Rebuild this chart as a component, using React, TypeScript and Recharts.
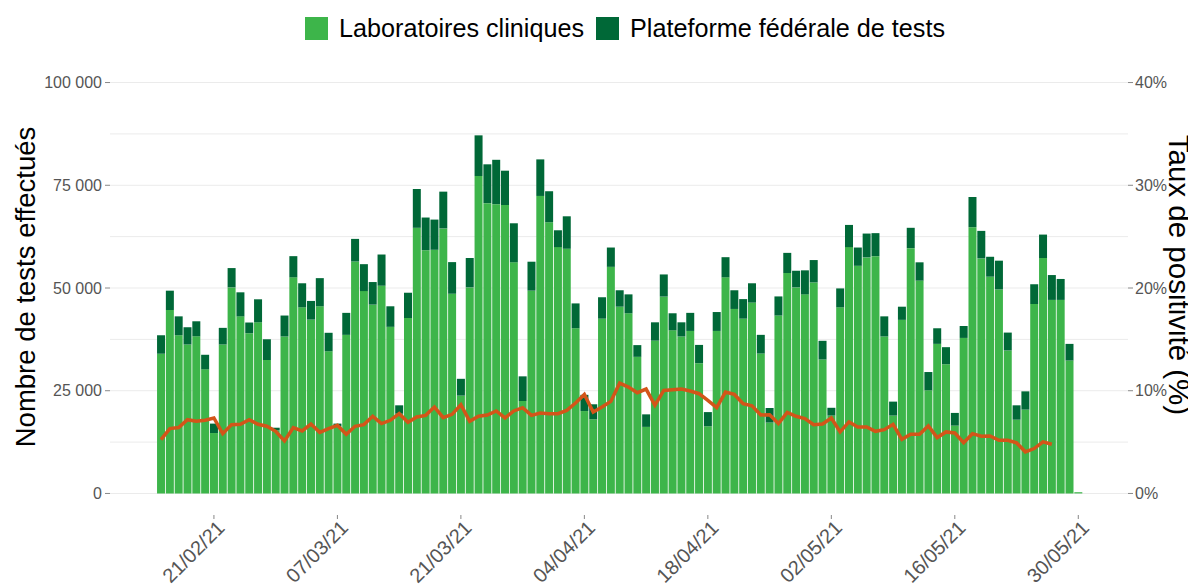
import React from "react";
import {
  ComposedChart,
  Bar,
  Line,
  XAxis,
  YAxis,
  CartesianGrid,
} from "recharts";

const FONT = "'Liberation Sans', Arial, Helvetica, sans-serif";

// daily dates 15/02/21 -> 30/05/21
const START = new Date(2021, 1, 15);
const dates: string[] = [];
for (let i = 0; i < 105; i++) {
  const d = new Date(START.getFullYear(), START.getMonth(), START.getDate() + i);
  const dd = String(d.getDate()).padStart(2, "0");
  const mm = String(d.getMonth() + 1).padStart(2, "0");
  dates.push(`${dd}/${mm}/21`);
}

const tickDates = ["21/02/21", "07/03/21", "21/03/21", "04/04/21", "18/04/21", "02/05/21", "16/05/21", "30/05/21"];

// tests by clinical labs
const labos = [
  34000, 44650, 38500, 36250, 38250, 30200, 14700, 36250, 50150, 43100, 39000, 41650, 32500, 15350,
  38200, 52600, 45300, 42300, 45550, 34600, 16350, 38600, 56450, 49250, 45950, 50550, 40550, 19400,
  42700, 64650, 59200, 59300, 64500, 48600, 23800, 50150, 77250, 70650, 70400, 70200, 56250, 22500,
  49350, 72400, 66000, 59950, 59550, 40200, 20050, 18050, 42550, 55150, 45450, 43850, 33250, 16200,
  37200, 47900, 39700, 38200, 39550, 31700, 16350, 39550, 52600, 44900, 42550, 46450, 34050, 17250,
  43300, 53650, 50150, 48450, 51350, 32600, 18950, 45300, 59950, 55400, 57450, 57750, 38200, 18950,
  42250, 59700, 51800, 25100, 36400, 31450, 16500, 37850, 64800, 57200, 52750, 49650, 34800, 17950,
  20400, 46100, 57300, 47100, 47100, 32350, 300,
];

// tests by the federal platform
const plateforme = [
  4500, 4700, 4600, 4200, 3650, 3550, 2300, 4050, 4700, 5850, 2600, 5600, 5050, 650,
  5100, 5150, 5850, 4550, 6850, 4500, 650, 5350, 5500, 6550, 5500, 7600, 5000, 2050,
  6150, 9450, 7950, 7350, 8950, 7700, 4100, 7150, 9900, 9450, 10800, 8350, 9500, 6000,
  7050, 8900, 7550, 4100, 7900, 6050, 3950, 3650, 5200, 4700, 4000, 4600, 2850, 3050,
  4450, 5400, 4150, 3450, 4400, 4450, 3450, 4600, 4900, 4550, 4750, 4700, 4550, 3550,
  4650, 4900, 4050, 5850, 5450, 4550, 1900, 4600, 5400, 4450, 5800, 5600, 4900, 3400,
  3200, 4950, 4450, 4450, 3800, 4150, 3100, 2900, 7350, 6700, 4850, 7000, 4350, 3500,
  4450, 4800, 5700, 6050, 5100, 4050, 0,
];

// positivity rate (%)
const taux: (number | null)[] = [
  5.24, 6.31, 6.41, 7.18, 7.02, 7.12, 7.35, 5.82, 6.7, 6.73, 7.18, 6.73, 6.54, 6.05,
  5.11, 6.41, 6.08, 6.76, 5.95, 6.31, 6.63, 5.76, 6.54, 6.7, 7.51, 6.8, 7.12, 7.77,
  6.93, 7.44, 7.6, 8.41, 7.38, 7.7, 8.64, 7.02, 7.51, 7.63, 8.03, 7.35, 8.03, 8.35,
  7.6, 7.83, 7.77, 7.77, 8.09, 8.8, 9.64, 7.93, 8.41, 8.96, 10.74, 10.36, 9.81, 10.16,
  8.58, 10.03, 10.1, 10.16, 9.97, 9.71, 9.06, 8.35, 9.87, 9.64, 8.74, 8.54, 7.64, 7.67,
  6.8, 7.9, 7.51, 7.28, 6.7, 6.76, 7.35, 5.99, 6.96, 6.47, 6.47, 6.05, 6.21, 6.73,
  5.27, 5.76, 5.76, 6.57, 5.44, 5.99, 5.89, 4.95, 5.82, 5.57, 5.6, 5.18, 5.18, 4.92,
  4.05, 4.37, 5.02, 4.79, null, null, null,
];

const leftTicks = [0, 25000, 50000, 75000, 100000];
const rightTicks = [0, 10, 20, 30, 40];
const gridValues = [0, 12500, 25000, 37500, 50000, 62500, 75000, 87500, 100000];

const data = dates.map((date, i) => ({
  date,
  labos: labos[i],
  plateforme: plateforme[i],
  taux: taux[i],
}));

const LIGHT = "#3db54a";
const DARK = "#006837";
const LINE = "#d35519";
const TXT = "#555555";

const fmtNum = (v: number) => String(v).replace(/\B(?=(\d{3})+(?!\d))/g, " ");

const DateTick = (props: any) => {
  const { x, y, payload } = props;
  if (!tickDates.includes(payload.value)) return <g />;
  const tx = x + 12;
  const ty = y + 15;
  return (
    <g>
      <line x1={x} x2={x} y1={y + 1} y2={y + 5} stroke="#888" />
      <text
        x={tx}
        y={ty}
        textAnchor="end"
        transform={`rotate(-45 ${tx} ${ty})`}
        fill={TXT}
        fontSize={20}
        fontFamily={FONT}
      >
        {payload.value}
      </text>
    </g>
  );
};

export default function App() {
  return (
    <div style={{ position: "relative", width: 1180, height: 580, fontFamily: FONT }}>
      <div
        style={{
          position: "absolute",
          left: 297,
          top: 6,
          display: "flex",
          alignItems: "center",
          fontSize: 25.2,
          color: "#000",
          zIndex: 2,
        }}
      >
        <span style={{ width: 23, height: 23, background: LIGHT, display: "inline-block", marginRight: 11 }} />
        <span style={{ marginRight: 12 }}>Laboratoires cliniques</span>
        <span style={{ width: 23, height: 23, background: DARK, display: "inline-block", marginRight: 11 }} />
        <span>Plateforme fédérale de tests</span>
      </div>
      <svg
        width={1188}
        height={580}
        style={{ position: "absolute", left: 0, top: 0, pointerEvents: "none", zIndex: 2 }}
      >
        <text
          x={17}
          y={279}
          textAnchor="middle"
          dominantBaseline="central"
          transform="rotate(-90 17 279)"
          fontSize={27.5}
          fontFamily={FONT}
          fill="#000"
        >
          Nombre de tests effectués
        </text>
        <text
          x={1171}
          y={267}
          textAnchor="middle"
          dominantBaseline="central"
          transform="rotate(90 1171 267)"
          fontSize={29.5}
          fontFamily={FONT}
          fill="#000"
        >
          Taux de positivité (%)
        </text>
      </svg>
      <ComposedChart
        width={1180}
        height={580}
        data={data}
        margin={{ top: 54, right: 0, bottom: 0, left: 0 }}
        barCategoryGap="5%"
      >
        <CartesianGrid
          yAxisId="left"
          vertical={false}
          stroke="#ebebeb"
          strokeWidth={1}
          horizontalValues={gridValues}
        />
        <XAxis
          dataKey="date"
          type="category"
          interval={0}
          padding={{ left: 46.6, right: 45.3 }}
          axisLine={false}
          tickLine={false}
          tickSize={0}
          tickMargin={0}
          height={74}
          tick={<DateTick />}
        />
        <YAxis
          yAxisId="left"
          type="number"
          domain={[-5000, 105000]}
          ticks={leftTicks}
          allowDataOverflow
          tickFormatter={fmtNum}
          width={102}
          axisLine={false}
          tickLine={{ stroke: "#888" }}
          tickSize={5}
          tickMargin={3}
          tick={{ fill: TXT, fontSize: 16, fontFamily: FONT }}
        />
        <YAxis
          yAxisId="right"
          orientation="right"
          type="number"
          domain={[-2, 42]}
          ticks={rightTicks}
          allowDataOverflow
          tickFormatter={(v: number) => `${v}%`}
          width={60}
          axisLine={false}
          tickLine={{ stroke: "#888" }}
          tickSize={5}
          tickMargin={2}
          tick={{ fill: TXT, fontSize: 16, fontFamily: FONT, textAnchor: "start" }}
        />
        <Bar yAxisId="left" dataKey="labos" stackId="a" fill={LIGHT} isAnimationActive={false} />
        <Bar yAxisId="left" dataKey="plateforme" stackId="a" fill={DARK} isAnimationActive={false} />
        <Line
          yAxisId="right"
          type="linear"
          dataKey="taux"
          stroke={LINE}
          strokeWidth={3.5}
          dot={false}
          activeDot={false}
          connectNulls={false}
          isAnimationActive={false}
        />
      </ComposedChart>
    </div>
  );
}
